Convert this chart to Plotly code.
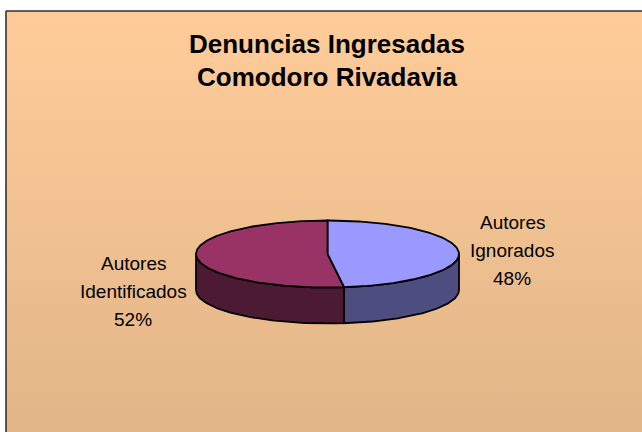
import numpy as np
import plotly.graph_objects as go

# ---- data ----
title_lines = ["Denuncias Ingresadas", "Comodoro Rivadavia"]
categories = ["Autores Ignorados", "Autores Identificados"]
values = [48, 52]

# ---- style / layout constants ----
top_colors = ["#9999FF", "#993366"]
side_colors = ["#4D4D80", "#4D1A33"]
W, H = 642, 432
cx, cy, rx, ry, depth = 327.5, 254.0, 131.5, 33.5, 36.0
label_x = [512, 133]
label_y0 = [222, 263.5]
label_step = 28
FONT = "Liberation Sans, Arial, sans-serif"

fig = go.Figure()

# background panel with vertical gradient
fig.add_trace(go.Scatter(
    x=[6, W + 5, W + 5, 6, 6], y=[11, 11, H + 5, H + 5, 11],
    mode="lines", fill="toself",
    line=dict(color="#333333", width=1.6),
    fillgradient=dict(type="vertical",
                      colorscale=[[0, "#E1B588"], [1, "#FFCC99"]]),
    hoverinfo="skip", showlegend=False))


def pt(theta_deg, dy=0.0):
    t = np.radians(theta_deg)
    return cx + rx * np.sin(t), cy - ry * np.cos(t) + dy


total = float(sum(values))
bounds = np.concatenate([[0.0], np.cumsum(values) / total * 360.0])

# side walls (front half only: 90..270 deg clockwise from top)
for i in range(len(values)):
    a1, a2 = bounds[i], bounds[i + 1]
    lo, hi = max(a1, 90.0), min(a2, 270.0)
    if hi <= lo:
        continue
    th = np.linspace(lo, hi, 80)
    xt, yt = pt(th)
    xb, yb = pt(th[::-1], depth)
    xs = np.concatenate([xt, xb, [xt[0]]])
    ys = np.concatenate([yt, yb, [yt[0]]])
    fig.add_trace(go.Scatter(
        x=xs, y=ys, mode="lines", fill="toself",
        fillcolor=side_colors[i], line=dict(color="black", width=1.8),
        hoverinfo="skip", showlegend=False))

# top faces
for i in range(len(values)):
    a1, a2 = bounds[i], bounds[i + 1]
    th = np.linspace(a1, a2, 200)
    xa, ya = pt(th)
    xs = np.concatenate([[cx], xa, [cx]])
    ys = np.concatenate([[cy], ya, [cy]])
    fig.add_trace(go.Scatter(
        x=xs, y=ys, mode="lines", fill="toself",
        fillcolor=top_colors[i], line=dict(color="black", width=1.8),
        hoverinfo="skip", showlegend=False))

annotations = []
# title
title_y = [44, 77]
for line, yy in zip(title_lines, title_y):
    annotations.append(dict(
        x=327, y=yy, xref="x", yref="y", text="<b>%s</b>" % line,
        showarrow=False, xanchor="center", yanchor="middle",
        font=dict(family=FONT, size=26, color="black")))

# data labels
for i, cat in enumerate(categories):
    pct = "%d%%" % round(values[i] / total * 100)
    lines = cat.split(" ") + [pct]
    for k, line in enumerate(lines):
        annotations.append(dict(
            x=label_x[i], y=label_y0[i] + k * label_step, xref="x", yref="y",
            text=line, showarrow=False, xanchor="center", yanchor="middle",
            font=dict(family=FONT, size=19, color="black")))

fig.update_layout(
    width=W, height=H, margin=dict(l=0, r=0, t=0, b=0),
    paper_bgcolor="white", plot_bgcolor="white",
    xaxis=dict(range=[0, W], visible=False, fixedrange=True),
    yaxis=dict(range=[H, 0], visible=False, fixedrange=True),
    annotations=annotations, showlegend=False)

fig.write_html("out.html", config={"displayModeBar": False},
               post_script="document.body.style.margin='0';"
                           "document.body.style.overflow='hidden';")
